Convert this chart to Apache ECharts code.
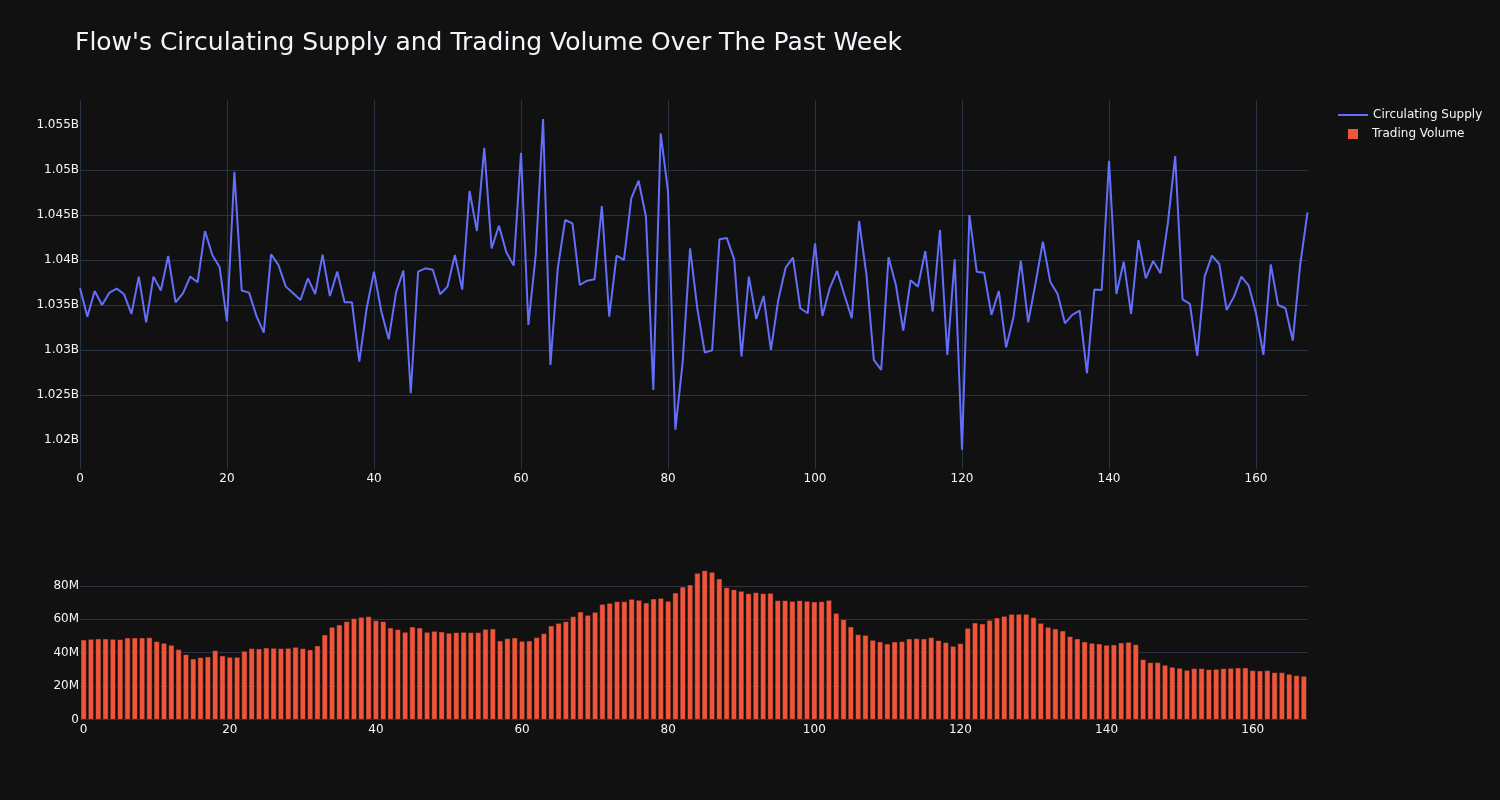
<!DOCTYPE html>
<html>
<head>
<meta charset="utf-8">
<script src="https://cdn.jsdelivr.net/npm/echarts@6/dist/echarts.min.js"></script>
<style>
html,body{margin:0;padding:0;background:#111111;}
#chart{width:1500px;height:800px;}
</style>
</head>
<body>
<div id="chart"></div>
<script>
// Hours (x positions), 0..167
const hours = Array.from({length: 168}, (_, i) => i);

// Circulating supply, in millions of FLOW
const supplyM = [
  1036.85, 1033.71, 1036.56, 1035.0, 1036.37, 1036.82, 1036.19, 1034.01, 1038.15, 1033.08,
  1038.15, 1036.6, 1040.44, 1035.3, 1036.3, 1038.15, 1037.52, 1043.21, 1040.55, 1039.18,
  1033.19, 1049.79, 1036.6, 1036.37, 1033.79, 1031.94, 1040.62, 1039.44, 1037.04, 1036.3,
  1035.56, 1037.96, 1036.22, 1040.59, 1036.0, 1038.7, 1035.3, 1035.3, 1028.72, 1034.64,
  1038.7, 1034.27, 1031.2, 1036.41, 1038.81, 1025.21, 1038.7, 1039.07, 1038.92, 1036.19,
  1037.04, 1040.55, 1036.71, 1047.65, 1043.21, 1052.45, 1041.29, 1043.8, 1040.85, 1039.37,
  1051.9, 1032.79, 1040.55, 1055.63, 1028.35, 1039.07, 1044.43, 1044.06, 1037.22, 1037.7,
  1037.85, 1045.98, 1033.71, 1040.48, 1040.0, 1046.83, 1048.79, 1044.8, 1025.58, 1054.04,
  1047.57, 1021.15, 1028.72, 1041.29, 1034.55, 1029.72, 1029.98, 1042.29, 1042.43, 1040.07,
  1029.28, 1038.15, 1033.45, 1036.0, 1030.02, 1035.56, 1039.14, 1040.25, 1034.64, 1034.08,
  1041.84, 1033.79, 1036.85, 1038.78, 1036.11, 1033.53, 1044.32, 1038.33, 1028.91, 1027.8,
  1040.29, 1037.22, 1032.16, 1037.74, 1037.04, 1040.99, 1034.27, 1043.32, 1029.46, 1040.07,
  1018.93, 1044.99, 1038.7, 1038.59, 1033.9, 1036.56, 1030.31, 1033.64, 1039.92, 1033.08,
  1037.41, 1042.03, 1037.59, 1036.22, 1032.97, 1033.9, 1034.38, 1027.43, 1036.71, 1036.67,
  1051.01, 1036.22, 1039.81, 1034.01, 1042.21, 1037.96, 1039.88, 1038.52, 1044.06, 1051.53,
  1035.63, 1035.12, 1029.35, 1038.15, 1040.48, 1039.55, 1034.45, 1035.93, 1038.15, 1037.15,
  1034.08, 1029.46, 1039.51, 1035.0, 1034.64, 1031.05, 1039.44, 1045.28
];

// Trading volume, in millions
const volumeM = [
  47.78, 48.18, 48.38, 48.38, 48.18, 47.98, 48.97, 48.97, 48.97, 49.17,
  46.78, 45.79, 44.6, 42.01, 39.02, 36.44, 37.23, 37.63, 41.41, 38.23,
  37.43, 37.43, 41.01, 42.6, 42.41, 43.0, 42.8, 42.6, 42.8, 43.4,
  42.6, 41.81, 44.2, 50.76, 55.34, 56.73, 58.72, 60.51, 61.31, 61.71,
  59.32, 58.72, 54.94, 53.95, 52.36, 55.54, 54.94, 52.36, 52.95, 52.56,
  51.76, 52.16, 52.36, 52.16, 52.16, 54.15, 54.35, 47.18, 48.58, 48.97,
  46.98, 47.18, 49.17, 51.56, 56.14, 57.73, 58.72, 61.71, 64.5, 62.5,
  64.3, 69.07, 69.67, 70.66, 70.66, 72.06, 71.46, 69.87, 72.26, 72.65,
  70.86, 75.84, 79.42, 80.61, 87.58, 89.17, 88.18, 84.2, 79.02, 77.83,
  76.83, 75.44, 76.04, 75.44, 75.64, 71.26, 71.26, 70.86, 71.26, 70.86,
  70.47, 70.66, 71.46, 63.7, 59.92, 55.54, 50.96, 50.57, 47.58, 46.59,
  45.39, 46.59, 46.78, 48.38, 48.58, 48.38, 49.17, 47.38, 46.19, 43.99,
  45.59, 54.74, 57.93, 57.33, 59.52, 60.91, 61.91, 63.1, 63.1, 63.1,
  61.11, 57.73, 55.34, 54.35, 53.15, 49.77, 48.38, 46.59, 45.79, 45.39,
  44.6, 44.8, 45.99, 46.39, 44.99, 36.04, 34.25, 34.25, 32.66, 31.46,
  30.86, 29.67, 30.67, 30.67, 30.07, 30.27, 30.67, 30.86, 31.06, 31.06,
  29.47, 29.27, 29.47, 28.28, 28.28, 27.28, 26.49, 26.09
];

// Tick values of the supply axis (millions)
const supplyTicks = [1020, 1025, 1030, 1035, 1040, 1045, 1050, 1055];

const titleText = "Flow's Circulating Supply and Trading Volume Over The Past Week";
const seriesNames = ['Circulating Supply', 'Trading Volume'];

const FONT = 'DejaVu Sans';
const TXT = '#f2f5fa';
const GRID = '#283442';

const chart = echarts.init(document.getElementById('chart'), null, {renderer: 'canvas'});
chart.setOption({
  backgroundColor: '#111111',
  animation: false,
  textStyle: {fontFamily: FONT, color: TXT},
  title: {
    text: titleText, left: 75, top: 31, padding: 0,
    textStyle: {fontFamily: FONT, fontSize: 25, fontWeight: 'normal', color: TXT}
  },
  legend: [
    {
      data: [{name: seriesNames[0], icon: 'rect'}], orient: 'vertical', left: 1338, top: 109,
      itemWidth: 30, itemHeight: 2, padding: 0,
      textStyle: {fontFamily: FONT, fontSize: 12, color: TXT}
    },
    {
      data: [{name: seriesNames[1], icon: 'rect'}], orient: 'vertical', left: 1346, top: 127,
      itemWidth: 12, itemHeight: 12, padding: 0,
      textStyle: {fontFamily: FONT, fontSize: 12, color: TXT, padding: [0, 0, 0, 8]}
    }
  ],
  grid: [
    {left: 80, right: 192.5, top: 100, bottom: 331},
    {left: 80, right: 192.5, top: 564, bottom: 80.3}
  ],
  xAxis: [
    {
      type: 'value', gridIndex: 0, min: 0, max: 167, interval: 20,
      axisLine: {show: false}, axisTick: {show: false},
      axisLabel: {color: TXT, fontFamily: FONT, fontSize: 12, margin: 4, showMaxLabel: false},
      splitLine: {show: true, showMaxLine: false, lineStyle: {color: GRID, width: 1}}
    },
    {
      type: 'category', gridIndex: 1, data: hours, boundaryGap: true,
      axisLine: {show: false}, axisTick: {show: false},
      axisLabel: {color: TXT, fontFamily: FONT, fontSize: 12, margin: 4, interval: 19},
      splitLine: {show: false}
    }
  ],
  yAxis: [
    {
      type: 'value', gridIndex: 0, min: 1016.8, max: 1057.75,
      axisLine: {show: false},
      axisTick: {show: false, customValues: supplyTicks},
      axisLabel: {
        color: TXT, fontFamily: FONT, fontSize: 12, margin: 1,
        customValues: supplyTicks,
        formatter: v => (+(v / 1000).toFixed(3)) + 'B'
      },
      splitLine: {show: true, customValues: supplyTicks, showMinLine: false, showMaxLine: false,
        lineStyle: {color: GRID, width: 1}}
    },
    {
      type: 'value', gridIndex: 1, min: 0, max: 93, interval: 20,
      axisLine: {show: false}, axisTick: {show: false},
      axisLabel: {
        color: TXT, fontFamily: FONT, fontSize: 12, margin: 1, showMaxLabel: false,
        formatter: v => (v === 0 ? '0' : v + 'M')
      },
      splitLine: {show: true, showMaxLine: false, lineStyle: {color: GRID, width: 1}}
    }
  ],
  series: [
    {
      name: seriesNames[0], type: 'line', xAxisIndex: 0, yAxisIndex: 0,
      data: hours.map((h, i) => [h, supplyM[i]]),
      symbol: 'none', showSymbol: false,
      lineStyle: {color: '#636efa', width: 2},
      itemStyle: {color: '#636efa'}
    },
    {
      name: seriesNames[1], type: 'bar', xAxisIndex: 1, yAxisIndex: 1,
      data: volumeM, barCategoryGap: '20%',
      itemStyle: {color: '#ef553b', borderColor: '#111111', borderWidth: 0.5}
    }
  ]
});
</script>
</body>
</html>
